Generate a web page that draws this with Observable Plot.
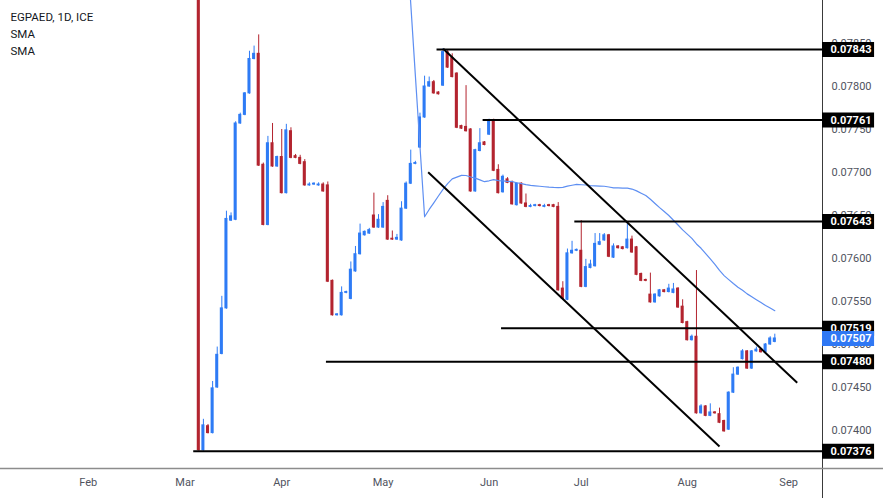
<!DOCTYPE html>
<html>
<head>
<meta charset="utf-8">
<script src="https://cdn.jsdelivr.net/npm/d3@7"></script>
<script src="https://cdn.jsdelivr.net/npm/@observablehq/plot@0.6"></script>
<style>
  html, body { margin: 0; padding: 0; background: #fff; }
  #chart svg { display: block; }
</style>
</head>
<body>
<div id="chart"></div>
<script>
// ---- Data (bar index 0 = 1 Feb 2024, trading days only) ----
// Pre-devaluation closes (off the top of the chart), bars 0..23
const preCloses = [0.11885,0.11884,0.11886,0.11885,0.11883,0.11885,0.11887,0.11884,0.11885,0.11886,
                   0.11884,0.11885,0.11885,0.11883,0.11886,0.11885,0.11884,0.11885,0.11886,0.11885,
                   0.11884,0.11885,0.11886,0.11885];
const firstVisible = 24; // 6 Mar 2024
const opens = [
  0.11885,0.07377,0.07405,0.07397,0.07450,0.07489,0.07542,0.07644,0.07645,0.07757,
  0.07767,0.07792,0.07832,0.07838,0.07709,0.07639,0.07734,0.07707,0.07718,0.07676,
  0.07748,0.07719,0.07717,0.07712,0.07685,0.07686,0.07685,0.07686,0.07685,0.07574,
  0.07534,0.07534,0.07560,0.07553,0.07585,0.07605,0.07627,0.07629,0.07650,0.07636,
  0.07636,0.07667,0.07623,0.07622,0.07621,0.07658,0.07687,0.07710,0.07729,0.07764,
  0.07800,0.07805,0.07793,0.07801,0.07840,0.07833,0.07815,0.07754,0.07753,0.07750,
  0.07678,0.07725,0.07735,0.07744,0.07760,0.07703,0.07677,0.07692,0.07689,0.07662,
  0.07687,0.07664,0.07660,0.07661,0.07662,0.07660,0.07662,0.07662,0.07660,0.07565,
  0.07552,0.07606,0.07609,0.07609,0.07567,0.07589,0.07591,0.07616,0.07621,0.07627,
  0.07601,0.07614,0.07613,0.07612,0.07622,0.07613,0.07582,0.07575,0.07558,0.07549,
  0.07556,0.07563,0.07561,0.07560,0.07565,0.07544,0.07526,0.07505,0.07509,0.07420,
  0.07428,0.07417,0.07421,0.07419,0.07411,0.07401,0.07444,0.07465,0.07483,0.07492,
  0.07472,0.07492,0.07494,0.07491,0.07500,0.07503];
const highs = [
  0.11890,0.07413,0.07407,0.07457,0.07497,0.07556,0.07655,0.07653,0.07759,0.07769,
  0.07793,0.07841,0.07847,0.07860,0.07711,0.07742,0.07757,0.07719,0.07750,0.07756,
  0.07752,0.07721,0.07720,0.07715,0.07688,0.07688,0.07688,0.07688,0.07689,0.07575,
  0.07536,0.07567,0.07562,0.07596,0.07614,0.07640,0.07632,0.07635,0.07676,0.07651,
  0.07665,0.07673,0.07632,0.07628,0.07666,0.07689,0.07726,0.07713,0.07769,0.07812,
  0.07811,0.07807,0.07794,0.07844,0.07843,0.07838,0.07816,0.07755,0.07801,0.07751,
  0.07727,0.07751,0.07736,0.07762,0.07762,0.07709,0.07697,0.07694,0.07690,0.07688,
  0.07688,0.07675,0.07663,0.07663,0.07663,0.07663,0.07663,0.07663,0.07665,0.07573,
  0.07611,0.07620,0.07611,0.07644,0.07599,0.07598,0.07629,0.07629,0.07629,0.07628,
  0.07617,0.07615,0.07614,0.07640,0.07626,0.07614,0.07583,0.07576,0.07583,0.07559,
  0.07564,0.07564,0.07570,0.07571,0.07566,0.07552,0.07527,0.07511,0.07586,0.07430,
  0.07429,0.07431,0.07422,0.07426,0.07412,0.07445,0.07473,0.07474,0.07494,0.07493,
  0.07493,0.07497,0.07495,0.07501,0.07509,0.07512];
const lows = [
  0.07376,0.07376,0.07396,0.07396,0.07449,0.07488,0.07541,0.07643,0.07644,0.07756,
  0.07766,0.07791,0.07831,0.07707,0.07638,0.07638,0.07706,0.07706,0.07675,0.07675,
  0.07716,0.07716,0.07709,0.07684,0.07684,0.07685,0.07684,0.07677,0.07572,0.07533,
  0.07533,0.07533,0.07559,0.07552,0.07584,0.07604,0.07626,0.07628,0.07635,0.07635,
  0.07635,0.07621,0.07621,0.07621,0.07620,0.07657,0.07686,0.07709,0.07728,0.07763,
  0.07799,0.07791,0.07790,0.07800,0.07821,0.07810,0.07751,0.07750,0.07747,0.07677,
  0.07677,0.07724,0.07731,0.07743,0.07701,0.07675,0.07676,0.07687,0.07662,0.07661,
  0.07663,0.07659,0.07659,0.07660,0.07660,0.07659,0.07660,0.07659,0.07562,0.07552,
  0.07551,0.07605,0.07608,0.07566,0.07566,0.07588,0.07590,0.07615,0.07620,0.07601,
  0.07600,0.07611,0.07610,0.07611,0.07606,0.07580,0.07573,0.07573,0.07548,0.07548,
  0.07555,0.07560,0.07560,0.07559,0.07542,0.07524,0.07504,0.07504,0.07419,0.07419,
  0.07416,0.07416,0.07419,0.07408,0.07398,0.07400,0.07443,0.07464,0.07482,0.07471,
  0.07471,0.07491,0.07490,0.07490,0.07499,0.07502];
const closes = [
  0.07377,0.07406,0.07397,0.07449,0.07488,0.07542,0.07646,0.07649,0.07757,0.07767,
  0.07792,0.07832,0.07838,0.07708,0.07639,0.07734,0.07707,0.07718,0.07676,0.07749,
  0.07717,0.07717,0.07710,0.07685,0.07686,0.07687,0.07686,0.07678,0.07573,0.07534,
  0.07535,0.07560,0.07561,0.07587,0.07605,0.07629,0.07631,0.07633,0.07636,0.07645,
  0.07660,0.07622,0.07622,0.07624,0.07658,0.07687,0.07710,0.07711,0.07764,0.07800,
  0.07805,0.07792,0.07791,0.07840,0.07822,0.07811,0.07752,0.07751,0.07748,0.07678,
  0.07726,0.07734,0.07732,0.07760,0.07702,0.07676,0.07695,0.07688,0.07663,0.07687,
  0.07664,0.07660,0.07661,0.07662,0.07661,0.07661,0.07661,0.07660,0.07563,0.07553,
  0.07606,0.07609,0.07610,0.07567,0.07590,0.07593,0.07617,0.07619,0.07627,0.07602,
  0.07614,0.07612,0.07611,0.07622,0.07607,0.07581,0.07574,0.07574,0.07549,0.07558,
  0.07563,0.07561,0.07565,0.07564,0.07543,0.07525,0.07505,0.07509,0.07420,0.07428,
  0.07417,0.07421,0.07420,0.07409,0.07399,0.07444,0.07465,0.07473,0.07492,0.07472,
  0.07492,0.07494,0.07491,0.07500,0.07507,0.07507];

const monthLabels = ["Feb","Mar","Apr","May","Jun","Jul","Aug","Sep"];
const monthIdx    = [0, 21, 42, 64, 87, 107, 130, 152];
const priceTicks  = [0.0740,0.0745,0.0750,0.0755,0.0760,0.0765,0.0770,0.0775,0.0780,0.0785];
const levels      = [0.07843, 0.07761, 0.07643, 0.07519, 0.07480, 0.07376];
const levelFrom   = [75.7, 85.7, 105.6, 89.7, 51.7, 22.9];
const channel = [
  {x1: 77.04, y1: 0.078438, x2: 153.86, y2: 0.074555},
  {x1: 73.78, y1: 0.077003, x2: 137.0,  y2: 0.073814}
];
const lastPrice = closes[closes.length - 1];
const legendText = "EGPAED, 1D, ICE\nSMA\nSMA";
const smaPeriod = 50;

// ---- Build table ----
const candles = [];
preCloses.forEach((v, i) => candles.push({i, open: v, high: v, low: v, close: v}));
opens.forEach((o, k) => candles.push({i: firstVisible + k, open: o, high: highs[k], low: lows[k], close: closes[k]}));
const up = candles.filter(d => d.close >= d.open);
const down = candles.filter(d => d.close < d.open);

const UP = "#2E7BF5", DOWN = "#B3242F";
const xMin = -19.03, xMax = 159.35;
const yMin = 0.0735581, yMax = 0.0790;
const boxUnits = 11.3;
const halfW = 0.33;

const chart = Plot.plot({
  width: 883,
  height: 498,
  marginLeft: 0,
  marginRight: 61,
  marginTop: 0,
  marginBottom: 30,
  style: {fontFamily: "Roboto, 'Liberation Sans', sans-serif", fontSize: "11px", color: "#50535e", background: "#fff"},
  x: {domain: [xMin, xMax], ticks: monthIdx, tickFormat: d => monthLabels[monthIdx.indexOf(d)], tickSize: 0, tickPadding: 10, label: null},
  y: {domain: [yMin, yMax], axis: "right", ticks: priceTicks, tickFormat: d3.format(".5f"), tickSize: 0, tickPadding: 9, label: null},
  marks: [
    // wicks
    Plot.ruleX(up,   {x: "i", y1: "low", y2: "high", stroke: UP,   strokeWidth: 1, clip: true}),
    Plot.ruleX(down, {x: "i", y1: "low", y2: "high", stroke: DOWN, strokeWidth: 1, clip: true}),
    // bodies
    Plot.rect(up,   {x1: d => d.i - halfW, x2: d => d.i + halfW, y1: "open", y2: "close", insetTop: -0.5, insetBottom: -0.5, fill: UP, clip: true}),
    Plot.rect(down, {x1: d => d.i - halfW, x2: d => d.i + halfW, y1: "open", y2: "close", insetTop: -0.5, insetBottom: -0.5, fill: DOWN, clip: true}),
    // SMA
    Plot.lineY(candles, Plot.windowY({k: smaPeriod, anchor: "end", reduce: "mean"}, {x: "i", y: "close", stroke: "#5E8FF2", strokeWidth: 1.2, clip: true})),
    // horizontal levels
    Plot.ruleY(levels, {y: d => d, x1: (d, i) => levelFrom[i], x2: xMax, stroke: "#000", strokeWidth: 2}),
    // channel
    Plot.link(channel, {x1: "x1", y1: "y1", x2: "x2", y2: "y2", stroke: "#000", strokeWidth: 2}),
    // axis borders
    Plot.ruleX([xMax], {stroke: "#3a3a3a", strokeWidth: 1, insetBottom: -30}),
    Plot.ruleY([yMin], {stroke: "#8c8c8c", strokeWidth: 1.5, insetRight: -61}),
    // level labels
    Plot.ruleY(levels, {y: d => d, x1: xMax, x2: xMax + boxUnits, stroke: "#000", strokeWidth: 15}),
    Plot.text(levels, {y: d => d, text: d => d.toFixed(5), frameAnchor: "right", dx: 8, textAnchor: "start", fill: "#fff", fontWeight: "bold", fontSize: 11}),
    // last price label
    Plot.ruleY([lastPrice], {y: d => d, x1: xMax, x2: xMax + boxUnits, stroke: "#2F78F4", strokeWidth: 15}),
    Plot.text([lastPrice], {y: d => d, text: d => d.toFixed(5), frameAnchor: "right", dx: 8, textAnchor: "start", fill: "#fff", fontWeight: "bold", fontSize: 11}),
    // legend
    Plot.text([legendText], {frameAnchor: "top-left", dx: 10, dy: 9, lineAnchor: "top", lineHeight: 1.45, textAnchor: "start", fill: "#131722", fontSize: 11.5})
  ]
});
document.getElementById("chart").appendChild(chart);
</script>
</body>
</html>
